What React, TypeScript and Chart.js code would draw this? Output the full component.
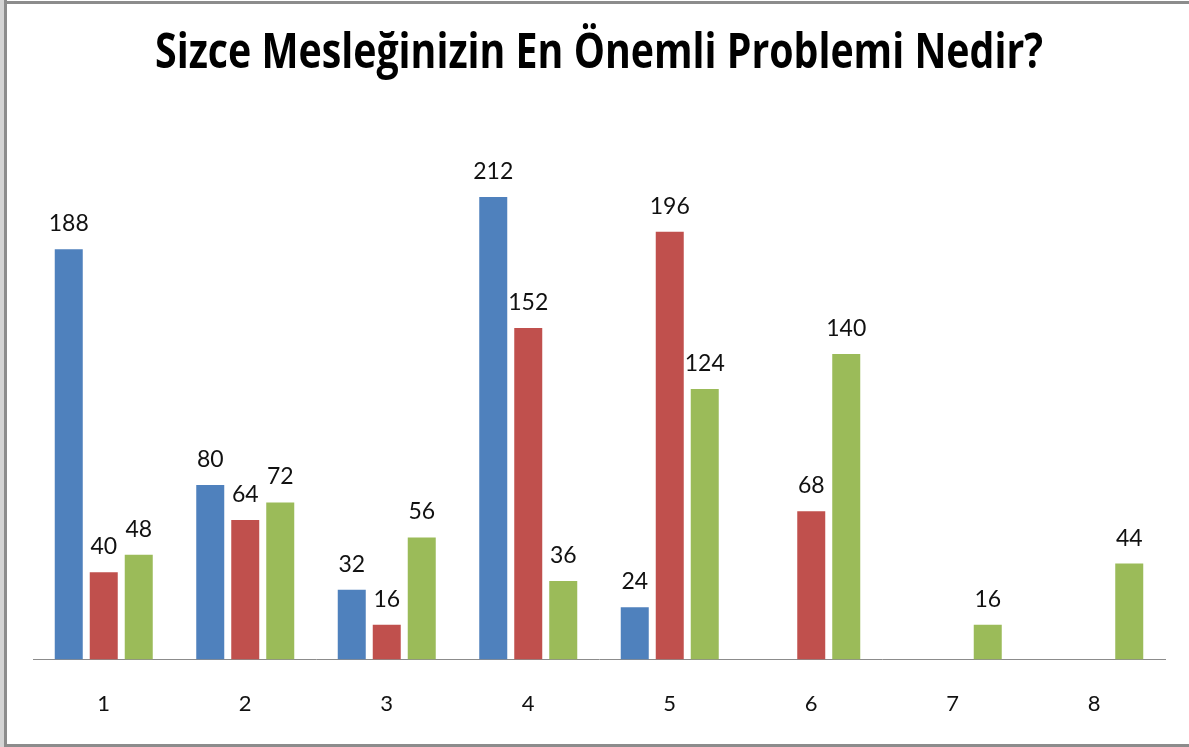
import React, { useEffect, useRef } from "react";
import { Chart, registerables } from "chart.js";

Chart.register(...registerables);

const TITLE = "Sizce Mesleğinizin En Önemli Problemi Nedir?";
const categories = ["1", "2", "3", "4", "5", "6", "7", "8"];
const seriesA: (number | null)[] = [188, 80, 32, 212, 24, null, null, null];
const seriesB: (number | null)[] = [40, 64, 16, 152, 196, 68, null, null];
const seriesC: (number | null)[] = [48, 72, 56, 36, 124, 140, 16, 44];
const colors = ["#4F81BD", "#C0504D", "#9BBB59"];

const titlePlugin = {
  id: "fitTitle",
  afterDraw(chart: any) {
    const ctx = chart.ctx;
    ctx.save();
    ctx.font = "bold 48px 'Open Sans'";
    ctx.fillStyle = "#000";
    ctx.textBaseline = "alphabetic";
    ctx.textAlign = "center";
    const w = ctx.measureText(TITLE).width;
    const target = 888;
    const sx = target / w;
    ctx.translate(599, 68);
    ctx.scale(sx, 1);
    ctx.fillText(TITLE, 0, 0);
    ctx.restore();
  },
};

const labelPlugin = {
  id: "barLabels",
  afterDatasetsDraw(chart: any) {
    const ctx = chart.ctx;
    ctx.save();
    ctx.font = "23px Lato";
    ctx.fillStyle = "#111";
    ctx.textAlign = "center";
    ctx.textBaseline = "alphabetic";
    chart.data.datasets.forEach((ds: any, i: number) => {
      const meta = chart.getDatasetMeta(i);
      meta.data.forEach((bar: any, j: number) => {
        const v = ds.data[j];
        if (v === null || v === undefined) return;
        ctx.fillText(String(v), bar.x, bar.y - 18);
      });
    });
    ctx.restore();
  },
};

export default function App() {
  const ref = useRef<HTMLCanvasElement>(null);
  useEffect(() => {
    document.body.style.margin = "0";
    const chart = new Chart(ref.current!, {
      type: "bar",
      data: {
        labels: categories,
        datasets: [seriesA, seriesB, seriesC].map((d, i) => ({
          label: "S" + (i + 1),
          data: d,
          backgroundColor: colors[i],
          barPercentage: 0.8,
          categoryPercentage: 0.742,
        })),
      },
      options: {
        responsive: false,
        animation: false,
        layout: { padding: { top: 114, left: 33, right: 24, bottom: -1 } },
        plugins: {
          legend: { display: false },
          title: { display: false },
          tooltip: { enabled: false },
        },
        scales: {
          y: { display: false, min: 0, max: 250 },
          x: {
            grid: { display: false, drawTicks: false },
            border: { display: true, color: "#8c8c8c", width: 1 },
            ticks: {
              padding: 31,
              color: "#111",
              font: { family: "Lato", size: 22 },
            },
          },
        },
      },
      plugins: [titlePlugin, labelPlugin],
    });
    return () => chart.destroy();
  }, []);
  return (
    <div style={{ position: "relative", width: 1189, height: 747, background: "#fff", overflow: "hidden" }}>
      <canvas ref={ref} width={1189} height={747} style={{ position: "absolute", left: 0, top: 0 }} />
      <div style={{ position: "absolute", left: 0, top: 0, width: 4, height: 747, background: "#d4d4d4" }} />
      <div style={{ position: "absolute", left: 4, top: 0, width: 3, height: 747, background: "#8c8c8c" }} />
      <div style={{ position: "absolute", left: 4, top: 1, width: 1185, height: 3, background: "#8c8c8c" }} />
      <div style={{ position: "absolute", left: 4, top: 744, width: 1185, height: 3, background: "#8c8c8c" }} />
    </div>
  );
}
